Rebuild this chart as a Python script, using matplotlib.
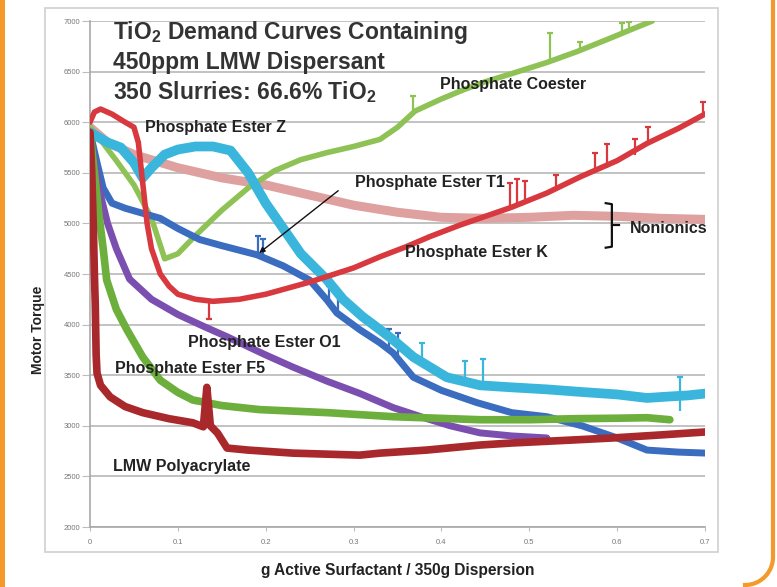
import matplotlib
matplotlib.use("Agg")
import matplotlib.pyplot as plt
from matplotlib.patches import Rectangle
from matplotlib.lines import Line2D
import numpy as np

plt.rcParams['font.family'] = ['Liberation Sans', 'DejaVu Sans']
plt.rcParams['mathtext.fontset'] = 'custom'
plt.rcParams['mathtext.bf'] = 'Liberation Sans:bold'
plt.rcParams['mathtext.rm'] = 'Liberation Sans:bold'

# ---------------- data ----------------
coester_x = [0, 0.01, 0.03, 0.05, 0.07, 0.085, 0.10, 0.12, 0.15, 0.18, 0.21, 0.24, 0.27, 0.30, 0.33,
             0.35, 0.37, 0.40, 0.425, 0.45, 0.48, 0.52, 0.555, 0.595, 0.62, 0.64]
coester_y = [5950, 5850, 5620, 5380, 5050, 4650, 4700, 4880, 5130, 5350, 5520, 5630, 5700, 5760, 5830,
             5950, 6110, 6230, 6320, 6400, 6480, 6590, 6700, 6840, 6930, 7000]
coester_spike_x = [0.368, 0.524, 0.558, 0.606, 0.614]
coester_spike_lo = [6110, 6600, 6700, 6860, 6880]
coester_spike_hi = [6260, 6880, 6790, 6980, 6990]

esterK_x = [0, 0.005, 0.012, 0.025, 0.04, 0.05, 0.055, 0.06, 0.065, 0.07, 0.08, 0.09, 0.10, 0.12, 0.14,
            0.17, 0.20, 0.25, 0.30, 0.33, 0.36, 0.387, 0.42, 0.45, 0.48, 0.52, 0.558, 0.60, 0.634,
            0.67, 0.702]
esterK_y = [6000, 6100, 6130, 6080, 6000, 5950, 5800, 5400, 5000, 4750, 4500, 4380, 4300, 4250, 4230,
            4250, 4300, 4420, 4560, 4670, 4770, 4870, 4980, 5070, 5160, 5300, 5460, 5620, 5790,
            5940, 6090]
esterK_spike_x = [0.135, 0.478, 0.486, 0.495, 0.53, 0.575, 0.588, 0.62, 0.635, 0.698]
esterK_spike_lo = [4230, 5150, 5180, 5210, 5330, 5500, 5550, 5680, 5790, 6080]
esterK_spike_hi = [4060, 5400, 5440, 5420, 5480, 5700, 5780, 5830, 5950, 6200]

nonionic_x = [0, 0.02, 0.05, 0.10, 0.15, 0.20, 0.25, 0.30, 0.35, 0.40, 0.45, 0.50, 0.55, 0.60, 0.65, 0.70]
nonionic_y = [5950, 5800, 5680, 5550, 5450, 5380, 5280, 5180, 5110, 5060, 5050, 5060, 5080, 5070, 5050, 5040]

esterZ_x = [0, 0.01, 0.02, 0.035, 0.05, 0.06, 0.07, 0.085, 0.10, 0.12, 0.14, 0.16, 0.18, 0.20, 0.22,
            0.24, 0.27, 0.288, 0.31, 0.33, 0.345, 0.368, 0.406, 0.444, 0.48, 0.52, 0.558, 0.60, 0.634,
            0.66, 0.68, 0.702]
esterZ_y = [5900, 5850, 5800, 5750, 5600, 5450, 5550, 5680, 5730, 5760, 5760, 5720, 5500, 5200, 4950,
            4700, 4440, 4250, 4080, 3950, 3850, 3680, 3480, 3400, 3380, 3360, 3335, 3310, 3275,
            3290, 3300, 3320]
esterZ_spike_x = [0.378, 0.427, 0.447, 0.672]
esterZ_spike_lo = [3600, 3450, 3420, 3150]
esterZ_spike_hi = [3820, 3640, 3660, 3480]

esterT1_x = [0, 0.008, 0.015, 0.025, 0.04, 0.06, 0.08, 0.10, 0.125, 0.15, 0.19, 0.22, 0.25, 0.27,
             0.281, 0.307, 0.33, 0.345, 0.368, 0.40, 0.44, 0.48, 0.52, 0.56, 0.60, 0.634, 0.67, 0.702]
esterT1_y = [5900, 5600, 5350, 5200, 5150, 5100, 5050, 4950, 4840, 4780, 4690, 4580, 4440, 4240,
             4115, 3950, 3820, 3720, 3480, 3350, 3230, 3130, 3090, 3000, 2880, 2760, 2740, 2730]
esterT1_spike_x = [0.191, 0.197, 0.272, 0.282, 0.34, 0.35]
esterT1_spike_lo = [4690, 4670, 4230, 4110, 3760, 3700]
esterT1_spike_hi = [4880, 4850, 4380, 4330, 3960, 3920]

esterO1_x = [0, 0.005, 0.01, 0.02, 0.03, 0.045, 0.07, 0.10, 0.13, 0.156, 0.20, 0.231, 0.27, 0.307,
             0.345, 0.38, 0.41, 0.444, 0.48, 0.52]
esterO1_y = [5800, 5600, 5350, 5000, 4750, 4450, 4250, 4100, 3980, 3880, 3700, 3580, 3440, 3320,
             3180, 3080, 3000, 2930, 2900, 2880]

esterF5_x = [0, 0.005, 0.01, 0.015, 0.019, 0.03, 0.042, 0.06, 0.08, 0.10, 0.117, 0.15, 0.193, 0.27,
             0.345, 0.444, 0.50, 0.55, 0.60, 0.634, 0.66]
esterF5_y = [5900, 5500, 5100, 4750, 4440, 4150, 3950, 3680, 3450, 3330, 3255, 3200, 3160, 3130,
             3090, 3060, 3060, 3070, 3075, 3080, 3060]

lmw_x = [0, 0.002, 0.004, 0.005, 0.006, 0.007, 0.008, 0.012, 0.023, 0.04, 0.06, 0.09, 0.117, 0.129,
         0.133, 0.137, 0.145, 0.156, 0.18, 0.231, 0.307, 0.33, 0.383, 0.444, 0.48, 0.55, 0.595, 0.65, 0.702]
lmw_y = [5900, 5500, 4900, 4500, 4200, 3700, 3520, 3400, 3285, 3190, 3130, 3070, 3030, 2990,
         3380, 3000, 2930, 2780, 2760, 2730, 2710, 2730, 2760, 2810, 2830, 2860, 2880, 2910, 2940]

y_ticks = [2000, 2500, 3000, 3500, 4000, 4500, 5000, 5500, 6000, 6500, 7000]
x_ticks = [0, 0.1, 0.2, 0.3, 0.4, 0.5, 0.6, 0.7]
x_ticklabels = ["0", "0.1", "0.2", "0.3", "0.4", "0.5", "0.6", "0.7"]

series = [
    ("Nonionics", nonionic_x, nonionic_y, "#DFA1A0", 6.5, None),
    ("Phosphate Coester", coester_x, coester_y, "#8EC254", 4.0,
     (coester_spike_x, coester_spike_lo, coester_spike_hi)),
    ("Phosphate Ester T1", esterT1_x, esterT1_y, "#3A6CC0", 5.0,
     (esterT1_spike_x, esterT1_spike_lo, esterT1_spike_hi)),
    ("Phosphate Ester Z", esterZ_x, esterZ_y, "#3AB5DC", 7.0,
     (esterZ_spike_x, esterZ_spike_lo, esterZ_spike_hi)),
    ("Phosphate Ester O1", esterO1_x, esterO1_y, "#7A4FB0", 5.0, None),
    ("Phosphate Ester F5", esterF5_x, esterF5_y, "#6DAF3C", 5.5, None),
    ("Phosphate Ester K", esterK_x, esterK_y, "#D8393F", 4.0,
     (esterK_spike_x, esterK_spike_lo, esterK_spike_hi)),
    ("LMW Polyacrylate", lmw_x, lmw_y, "#A8282B", 5.5, None),
]

W, H = 777, 587
fig = plt.figure(figsize=(W / 100, H / 100), dpi=100)
fig.patch.set_facecolor("white")

def fx(px):
    return px / W

def fy(py):
    return 1 - py / H

# chart-area box
fig.patches.append(Rectangle((fx(45), fy(552)), fx(718) - fx(45), fy(8) - fy(552),
                             transform=fig.transFigure, fill=False, edgecolor="#D3D3D3", lw=1.3))

# orange frame
fig.patches.append(Rectangle((0, 0), fx(5), 1, transform=fig.transFigure,
                             facecolor="#F39A2B", edgecolor="none"))
t = np.linspace(0, np.pi / 2, 30)
cx, cy, r = 745, 557, 28
arc_x = [773] + list(cx + r * np.cos(t))
arc_y = [0] + list(cy + r * np.sin(t))
fig.lines.append(Line2D([fx(v) for v in arc_x], [fy(v) for v in arc_y], transform=fig.transFigure,
                        color="#F39A2B", lw=3))

# clipped caption fragment at top (cut off in the original too)
fig.text(fx(46), fy(-4), "g", fontsize=11, color="#333333", va="baseline", ha="left")

ax = fig.add_axes([fx(90), fy(527), fx(705) - fx(90), fy(21) - fy(527)])
ax.set_xlim(0, 0.7)
ax.set_ylim(2000, 7000)

for name, xs, ys, col, lw, spikes in series:
    ax.plot(xs, ys, color=col, lw=lw, solid_joinstyle="round", solid_capstyle="round", zorder=3)
    if spikes is not None:
        sx, slo, shi = spikes
        ax.vlines(sx, slo, shi, color=col, lw=1.6, zorder=3)
        ax.plot(sx, shi, ls="none", marker="_", ms=5, mew=1.6, color=col, zorder=3)

ax.set_yticks(y_ticks)
ax.set_yticklabels([str(v) for v in y_ticks])
ax.set_xticks(x_ticks)
ax.set_xticklabels(x_ticklabels)
ax.grid(axis="y", color="#BDBDBD", lw=1.3, zorder=0)
ax.set_axisbelow(True)
for s in ["top", "right"]:
    ax.spines[s].set_visible(False)
ax.spines["left"].set_color("#A8A8A8")
ax.spines["bottom"].set_color("#A8A8A8")
ax.spines["left"].set_linewidth(1.2)
ax.spines["bottom"].set_linewidth(1.2)
ax.tick_params(axis="y", length=6, color="#BDBDBD", labelsize=5.5, labelcolor="#777777", pad=1)
ax.tick_params(axis="x", length=3, color="#BDBDBD", labelsize=5.5, labelcolor="#777777", pad=6)

fig.text(fx(38), fy(330), "Motor Torque", rotation=90, fontsize=10, fontweight="bold",
         color="#222222", ha="center", va="center")
ax.set_xlabel("g Active Surfactant / 350g Dispersion", fontsize=11.2, fontweight="bold",
              color="#222222", labelpad=12)

# title block inside the plot
title_kw = dict(fontsize=16.5, fontweight="bold", color="#333333", transform=fig.transFigure,
                ha="left", va="center")
fig.text(fx(113), fy(33), "TiO$_\\mathbf{2}$ Demand Curves Containing", **title_kw)
fig.text(fx(113), fy(63), "450ppm LMW Dispersant", **title_kw)
fig.text(fx(113), fy(92), "350 Slurries: 66.6% TiO$_\\mathbf{2}$", **title_kw)

# curve labels (pixel positions of their left edge / vertical centre)
lab_kw = dict(fontsize=11.5, fontweight="bold", color="#222222", transform=fig.transFigure,
              ha="left", va="center")
fig.text(fx(440), fy(85), "Phosphate Coester", **lab_kw)
fig.text(fx(145), fy(128), "Phosphate Ester Z", **lab_kw)
fig.text(fx(355), fy(182), "Phosphate Ester T1", **lab_kw)
fig.text(fx(405), fy(253), "Phosphate Ester K", **lab_kw)
fig.text(fx(630), fy(228), "Nonionics", **lab_kw)
fig.text(fx(188), fy(343), "Phosphate Ester O1", **lab_kw)
fig.text(fx(115), fy(369), "Phosphate Ester F5", **lab_kw)
fig.text(fx(113), fy(467), "LMW Polyacrylate", **lab_kw)

# arrow for T1
ax.annotate("", xy=(0.190, 4690), xytext=(0.285, 5340),
            arrowprops=dict(arrowstyle="-|>", color="#111111", lw=1.0, mutation_scale=8), zorder=6)

# brace for Nonionics
bx = 0.594
ax.plot([bx - 0.007, bx, bx, bx - 0.007], [5200, 5190, 4770, 4760], color="#111111", lw=1.6,
        clip_on=False, zorder=6)
ax.plot([bx, bx + 0.008], [4980, 4980], color="#111111", lw=1.6, clip_on=False, zorder=6)

fig.savefig("out.png", dpi=100)
